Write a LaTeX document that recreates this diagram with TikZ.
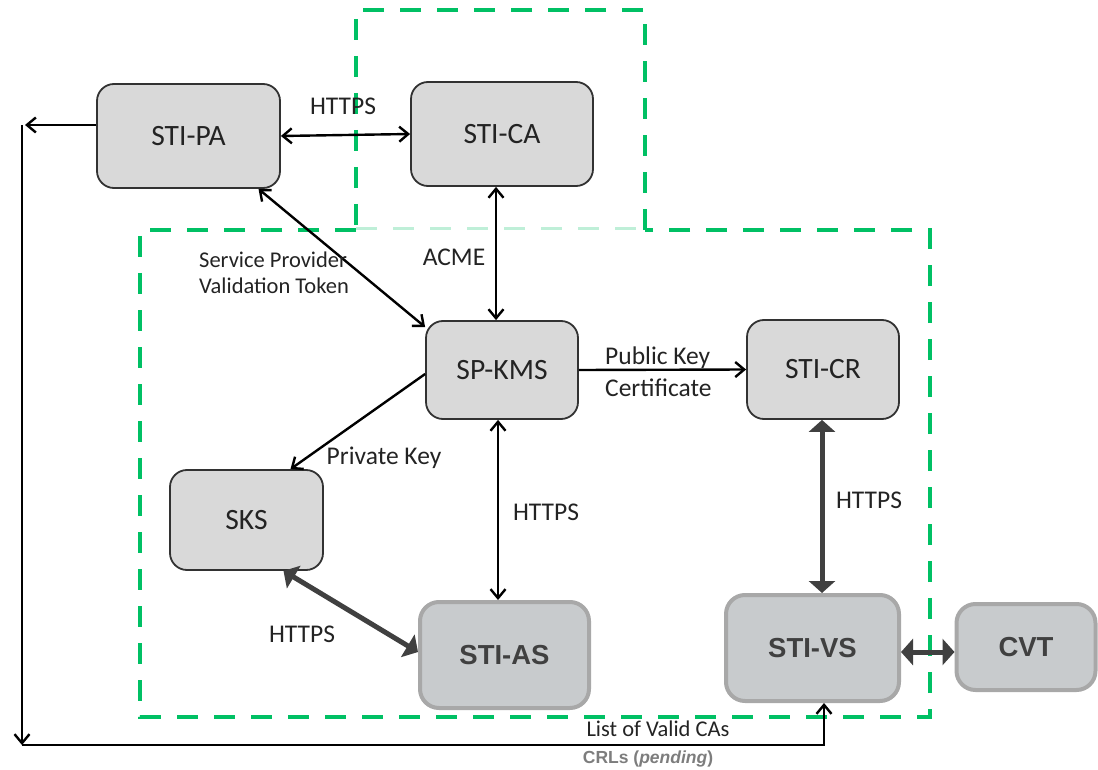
\documentclass[tikz,border=0pt]{standalone}
\usepackage{fontspec}
\setmainfont{Carlito}
\newfontfamily\headfont{Liberation Sans}
\usetikzlibrary{arrows.meta,calc}

\definecolor{boxfill}{RGB}{217,217,217}
\definecolor{boxline}{RGB}{50,50,50}
\definecolor{srvfill}{RGB}{200,203,205}
\definecolor{srvline}{RGB}{168,168,168}
\definecolor{srvtext}{RGB}{64,64,64}
\definecolor{txt}{RGB}{35,35,35}
\definecolor{zone}{RGB}{0,192,100}
\definecolor{thickarr}{RGB}{64,64,64}
\definecolor{note}{RGB}{125,125,125}

\tikzset{
  plainbox/.style={draw=boxline, line width=1.8pt, fill=boxfill, rounded corners=17pt,
    text=txt, font=\fontsize{29.5}{31}\selectfont, inner sep=0pt},
  srvbox/.style={draw=srvline, line width=4pt, fill=srvfill, rounded corners=19pt,
    text=srvtext, font=\headfont\bfseries\fontsize{27.5}{29}\selectfont, inner sep=0pt},
  lbl/.style={text=txt, font=\fontsize{25.5}{27}\selectfont, inner sep=0pt},
  smalllbl/.style={text=txt, font=\fontsize{22.5}{26}\selectfont, inner sep=0pt, align=left},
  thin/.style={draw=black, line width=2.4pt},
  thinarr/.style={thin, -{Straight Barb[length=9pt,width=15pt,line width=2.4pt]}},
  thinboth/.style={thin, {Straight Barb[length=9pt,width=15pt,line width=2.4pt]}-{Straight Barb[length=9pt,width=15pt,line width=2.4pt]}},
  thickboth/.style={draw=thickarr, line width=5pt,
    {Triangle[length=12pt,width=26pt]}-{Triangle[length=12pt,width=26pt]}},
  zoneline/.style={draw=zone, line width=4pt, dash pattern=on 21pt off 16pt},
}

\begin{document}
\begin{tikzpicture}[x=1pt,y=-1pt]
\useasboundingbox (0,0) rectangle (1098,770);

% trust zones
\draw[zoneline] (356,230) -- (140,230) -- (140,717) -- (930,717) -- (930,230) -- (645,230);
\draw[zoneline] (645,230) -- (645,10) -- (356,10) -- (356,230);
\draw[zone!25, line width=3pt, dash pattern=on 21pt off 16pt] (356,229) -- (645,229);

% components
\node[plainbox, minimum width=183pt, minimum height=104pt] (pa)  at (188.5,136) {STI-PA};
\node[plainbox, minimum width=182pt, minimum height=104pt] (ca)  at (502,134)   {STI-CA};
\node[plainbox, minimum width=152pt, minimum height=98pt]  (kms) at (502,370)   {SP-KMS};
\node[plainbox, minimum width=152pt, minimum height=99pt]  (cr)  at (823,369.5) {STI-CR};
\node[plainbox, minimum width=153pt, minimum height=100pt] (sks) at (246.5,520) {SKS};
\node[srvbox, minimum width=169pt, minimum height=106pt] (as)  at (504.5,655) {STI-AS};
\node[srvbox, minimum width=173pt, minimum height=106pt] (vs)  at (812.5,648) {STI-VS};
\node[srvbox, minimum width=139pt, minimum height=86pt]  (cvt) at (1026,647)  {CVT};

% corner points of the distribution loop
\coordinate (loopTop) at (25,125);
\coordinate (loopTopV) at (22,125);
\coordinate (loopBot) at (22,745);

% connectors
\draw[thinboth] (pa.east) -- (ca.west);
\node[lbl] (l1) at (343,106) {HTTPS};

\draw[thinboth] ([xshift=-6pt]ca.south) -- ([xshift=-6pt]kms.north);
\node[lbl] (l2) at (454,257) {ACME};

\draw[thinboth] ([xshift=70pt]pa.south) -- ([yshift=43pt]kms.west);
\node[smalllbl, anchor=north west] (l3) at (199,252) {Service Provider\\Validation Token};

\draw[thinarr] (kms.east) -- (cr.west);
\node[lbl, anchor=west] (l4a) at (605,358) {Public Key};
\node[lbl, anchor=west] (l4b) at (605,388) {Certificate};

\draw[thinarr] ([yshift=-4pt]kms.west) -- ([xshift=44pt]sks.north);
\node[lbl] (l5) at (384,458) {Private Key};

\draw[thinboth] ([xshift=-4pt]kms.south) -- ([xshift=-6.5pt]as.north);
\node[lbl] (l6) at (546,512) {HTTPS};

\draw[thickboth] ([xshift=-1pt]cr.south) -- ([xshift=9.5pt]vs.north);
\node[lbl] (l7) at (869,500) {HTTPS};

\draw[thickboth] ([xshift=37pt]sks.south) -- ([yshift=3pt]as.west);
\node[lbl] (l8) at (302,634) {HTTPS};

\draw[thickboth] ([yshift=-4pt]vs.east) -- ([yshift=-5pt]cvt.west);

\draw[thinarr] ([yshift=11pt]pa.west) -- (loopTop);
\draw[thinarr] (loopTopV) -- (loopBot);
\draw[thinarr] (loopBot) -| ([xshift=11.5pt]vs.south);
\node[smalllbl] (l9) at (658,729) {List of Valid CAs};
\node[text=note, font=\headfont\bfseries\fontsize{17.5}{19}\selectfont, inner sep=0pt] (l10) at (648,759) {CRLs (\textit{pending})};
\end{tikzpicture}
\end{document}
